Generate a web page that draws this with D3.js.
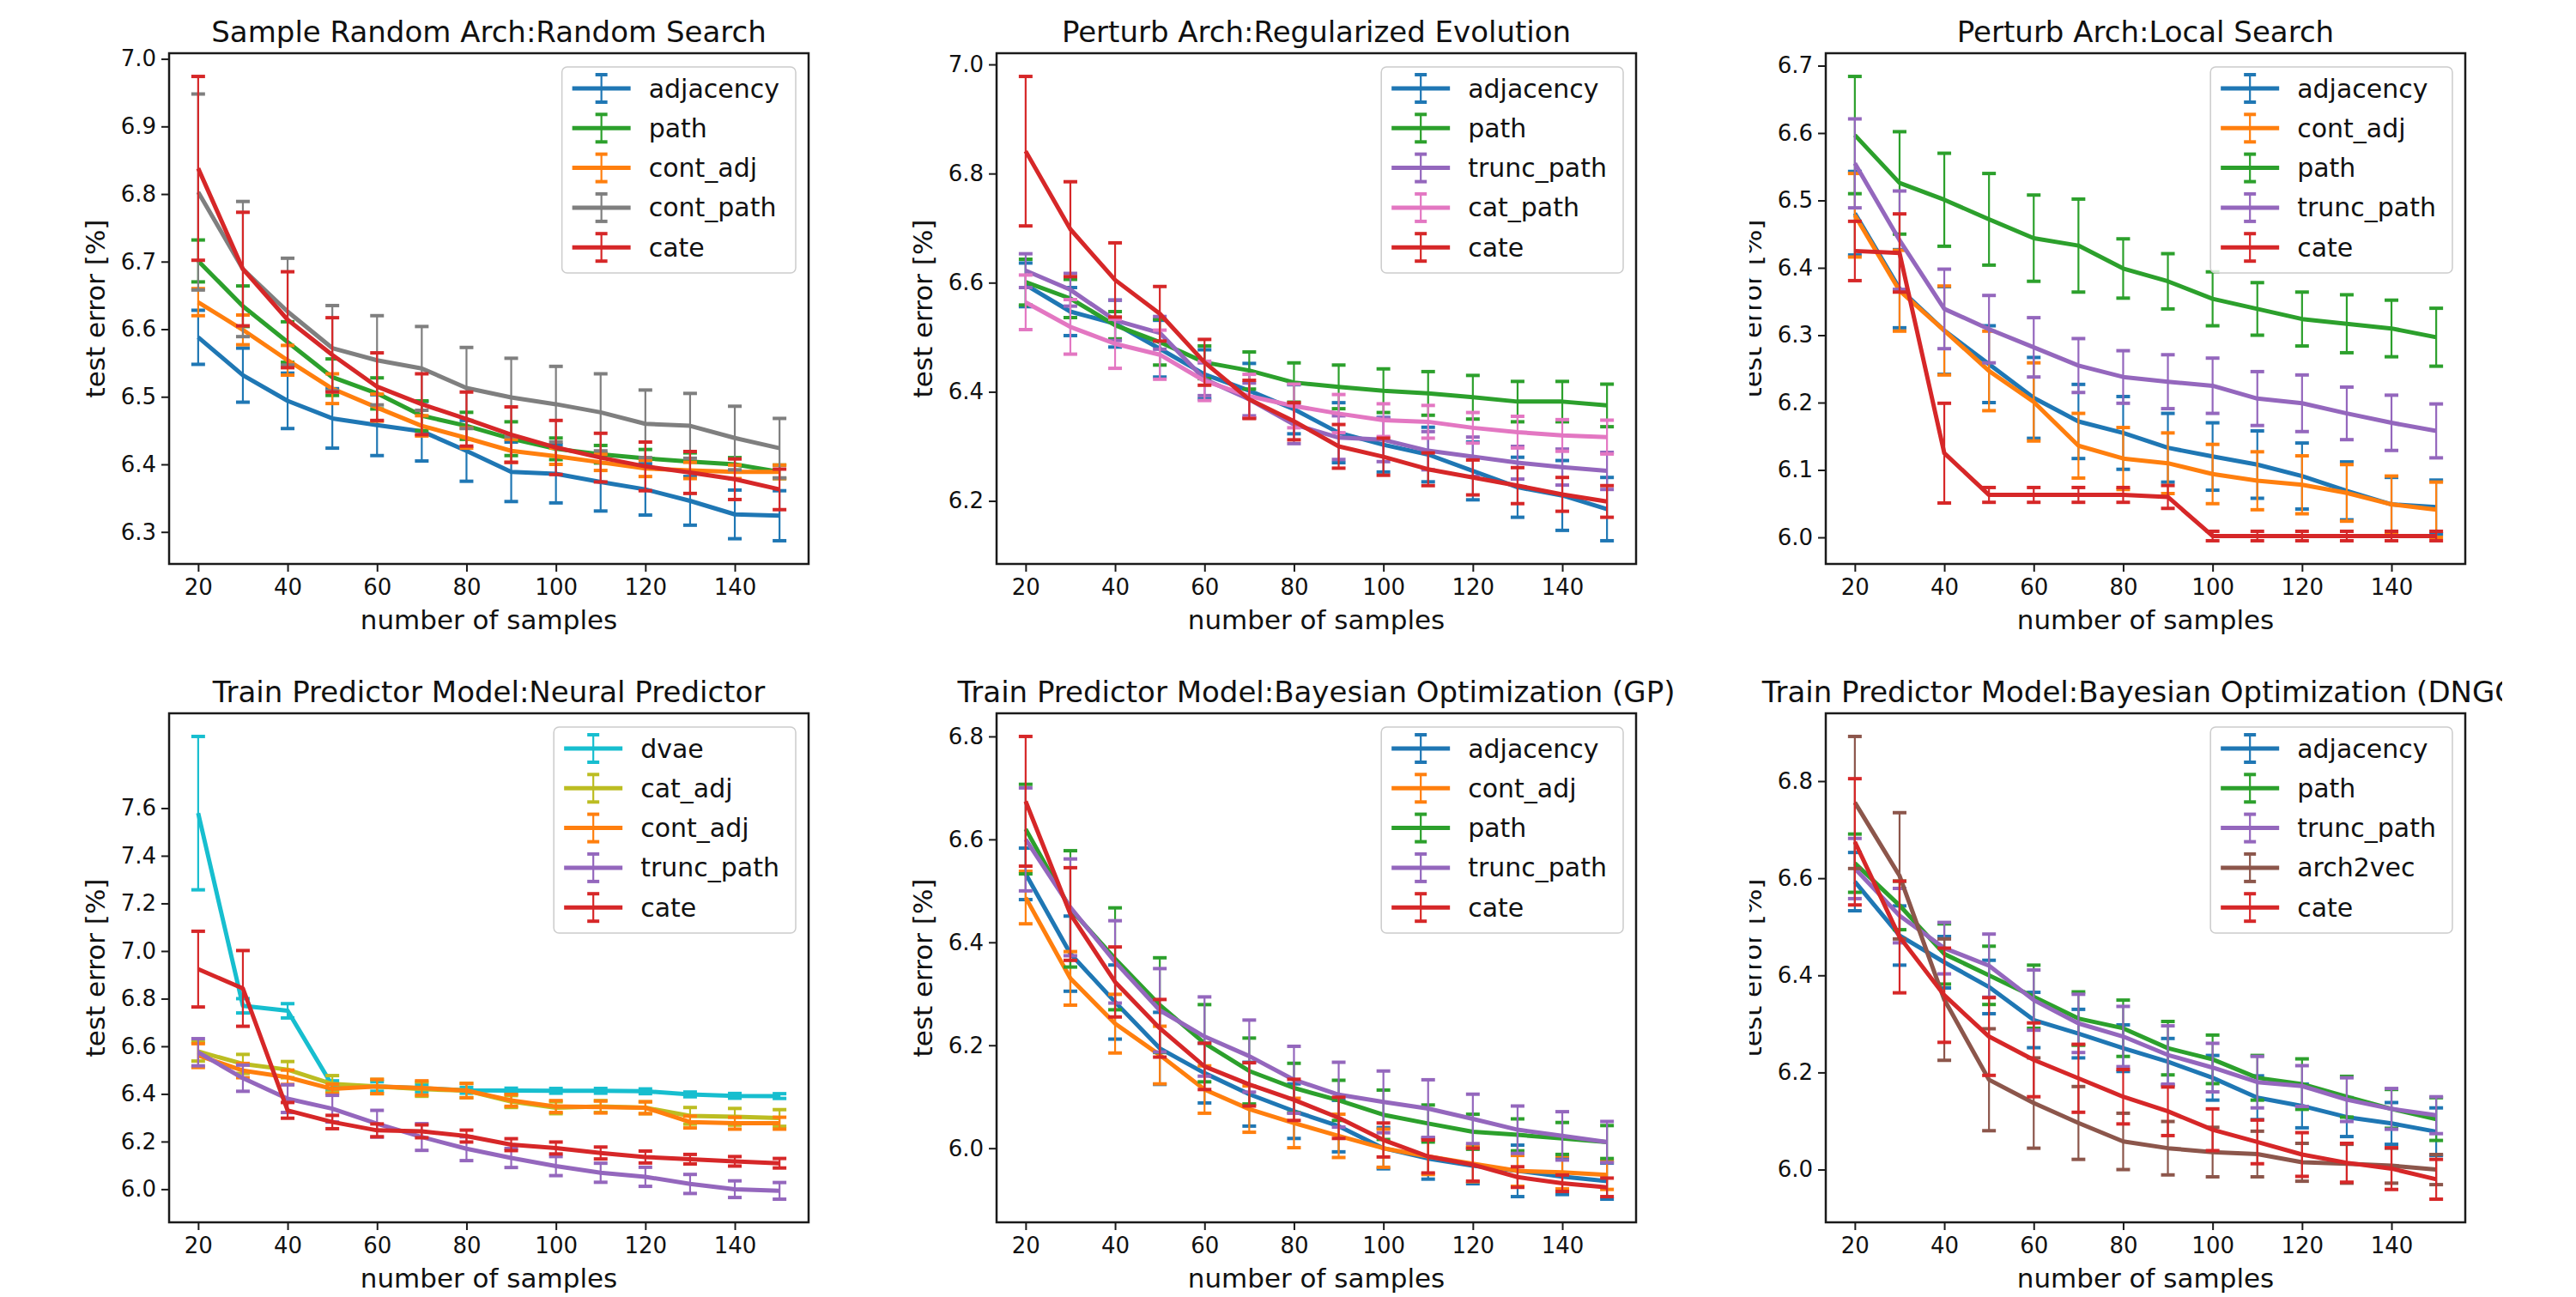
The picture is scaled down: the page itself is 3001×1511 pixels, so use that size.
<!DOCTYPE html>
<html>
<head>
<meta charset="utf-8">
<script src="https://cdn.jsdelivr.net/npm/d3@7"></script>
<style>
  body { margin: 0; background: #fff; }
  text { font-family: "DejaVu Sans", sans-serif; fill: #111; }
</style>
</head>
<body>
<svg id="chart" width="3001" height="1511"></svg>
<script>
// x values shared by every panel
const samples = [20, 30, 40, 50, 60, 70, 80, 90, 100, 110, 120, 130, 140, 150];
const xTicks = [20, 40, 60, 80, 100, 120, 140];

// Sample Random Arch: Random Search
const rsTicks = [6.3, 6.4, 6.5, 6.6, 6.7, 6.8, 6.9, 7.0];
const rsAdjacency = [6.588, 6.532, 6.494, 6.468, 6.458, 6.449, 6.420, 6.389, 6.386, 6.374, 6.363, 6.346, 6.326, 6.324];
const rsAdjacencyErr = [0.040, 0.040, 0.041, 0.044, 0.045, 0.044, 0.045, 0.044, 0.043, 0.043, 0.038, 0.036, 0.036, 0.037];
const rsPath = [6.701, 6.634, 6.581, 6.529, 6.505, 6.472, 6.457, 6.438, 6.423, 6.415, 6.409, 6.404, 6.400, 6.389];
const rsPathErr = [0.031, 0.030, 0.030, 0.027, 0.023, 0.022, 0.020, 0.025, 0.016, 0.013, 0.013, 0.013, 0.010, 0.010];
const rsContAdj = [6.640, 6.599, 6.554, 6.512, 6.484, 6.457, 6.439, 6.420, 6.412, 6.403, 6.394, 6.391, 6.389, 6.389];
const rsContAdjErr = [0.020, 0.022, 0.022, 0.022, 0.020, 0.015, 0.015, 0.017, 0.012, 0.012, 0.012, 0.012, 0.010, 0.010];
const rsContPath = [6.803, 6.689, 6.626, 6.572, 6.554, 6.542, 6.513, 6.499, 6.489, 6.477, 6.460, 6.457, 6.439, 6.424];
const rsContPathErr = [0.145, 0.100, 0.079, 0.063, 0.066, 0.062, 0.060, 0.058, 0.056, 0.057, 0.050, 0.048, 0.047, 0.044];
const rsCate = [6.838, 6.689, 6.614, 6.562, 6.515, 6.489, 6.467, 6.444, 6.425, 6.410, 6.397, 6.388, 6.378, 6.363];
const rsCateErr = [0.136, 0.084, 0.071, 0.055, 0.050, 0.045, 0.040, 0.041, 0.040, 0.036, 0.036, 0.031, 0.030, 0.030];

// Perturb Arch: Regularized Evolution
const reTicks = [6.2, 6.4, 6.6, 6.8, 7.0];
const reAdjacency = [6.596, 6.547, 6.525, 6.479, 6.432, 6.402, 6.368, 6.325, 6.303, 6.285, 6.255, 6.225, 6.210, 6.185];
const reAdjacencyErr = [0.040, 0.044, 0.043, 0.052, 0.045, 0.050, 0.045, 0.055, 0.050, 0.050, 0.053, 0.055, 0.064, 0.058];
const rePath = [6.601, 6.571, 6.522, 6.491, 6.454, 6.439, 6.417, 6.409, 6.402, 6.397, 6.390, 6.382, 6.382, 6.375];
const rePathErr = [0.042, 0.035, 0.025, 0.042, 0.030, 0.034, 0.036, 0.040, 0.040, 0.040, 0.040, 0.037, 0.037, 0.039];
const reTruncPath = [6.622, 6.587, 6.531, 6.508, 6.423, 6.386, 6.340, 6.316, 6.312, 6.292, 6.281, 6.270, 6.262, 6.255];
const reTruncPathErr = [0.031, 0.030, 0.037, 0.030, 0.030, 0.030, 0.035, 0.040, 0.040, 0.035, 0.036, 0.030, 0.033, 0.034];
const reCatPath = [6.564, 6.519, 6.488, 6.468, 6.420, 6.392, 6.374, 6.360, 6.348, 6.345, 6.334, 6.326, 6.320, 6.317];
const reCatPathErr = [0.050, 0.050, 0.045, 0.045, 0.036, 0.040, 0.040, 0.035, 0.030, 0.030, 0.028, 0.029, 0.029, 0.031];
const reCate = [6.841, 6.698, 6.605, 6.543, 6.454, 6.386, 6.346, 6.300, 6.281, 6.258, 6.243, 6.228, 6.212, 6.199];
const reCateErr = [0.137, 0.087, 0.068, 0.050, 0.042, 0.035, 0.034, 0.040, 0.034, 0.030, 0.032, 0.033, 0.031, 0.029];

// Perturb Arch: Local Search
const lsTicks = [6.0, 6.1, 6.2, 6.3, 6.4, 6.5, 6.6, 6.7];
const lsAdjacency = [6.481, 6.369, 6.307, 6.257, 6.207, 6.172, 6.155, 6.133, 6.120, 6.108, 6.091, 6.069, 6.049, 6.045];
const lsAdjacencyErr = [0.062, 0.058, 0.065, 0.057, 0.060, 0.055, 0.054, 0.051, 0.050, 0.050, 0.049, 0.043, 0.040, 0.040];
const lsContAdj = [6.478, 6.366, 6.307, 6.247, 6.201, 6.136, 6.117, 6.110, 6.094, 6.084, 6.078, 6.066, 6.049, 6.041];
const lsContAdjErr = [0.062, 0.060, 0.066, 0.059, 0.058, 0.048, 0.046, 0.045, 0.044, 0.043, 0.043, 0.042, 0.042, 0.041];
const lsPath = [6.597, 6.526, 6.501, 6.472, 6.444, 6.433, 6.399, 6.380, 6.354, 6.339, 6.324, 6.317, 6.310, 6.297];
const lsPathErr = [0.087, 0.076, 0.069, 0.068, 0.064, 0.069, 0.044, 0.041, 0.040, 0.039, 0.040, 0.043, 0.042, 0.043];
const lsTruncPath = [6.555, 6.441, 6.339, 6.309, 6.282, 6.255, 6.238, 6.231, 6.225, 6.206, 6.199, 6.184, 6.170, 6.158];
const lsTruncPathErr = [0.066, 0.073, 0.059, 0.050, 0.044, 0.040, 0.039, 0.040, 0.041, 0.040, 0.042, 0.039, 0.041, 0.040];
const lsCate = [6.425, 6.422, 6.125, 6.063, 6.063, 6.063, 6.063, 6.060, 6.002, 6.002, 6.002, 6.002, 6.002, 6.002];
const lsCateErr = [0.044, 0.058, 0.074, 0.011, 0.011, 0.011, 0.011, 0.017, 0.007, 0.007, 0.007, 0.007, 0.007, 0.007];

// Train Predictor Model: Neural Predictor
const npTicks = [6.0, 6.2, 6.4, 6.6, 6.8, 7.0, 7.2, 7.4, 7.6];
const npDvae = [7.579, 6.770, 6.749, 6.435, 6.431, 6.424, 6.415, 6.414, 6.413, 6.413, 6.411, 6.398, 6.392, 6.391];
const npDvaeErr = [0.322, 0.030, 0.030, 0.020, 0.020, 0.015, 0.012, 0.010, 0.010, 0.010, 0.010, 0.010, 0.010, 0.010];
const npCatAdj = [6.578, 6.526, 6.502, 6.442, 6.431, 6.420, 6.414, 6.368, 6.342, 6.347, 6.342, 6.308, 6.304, 6.299];
const npCatAdjErr = [0.040, 0.040, 0.034, 0.035, 0.030, 0.030, 0.030, 0.025, 0.025, 0.025, 0.025, 0.035, 0.035, 0.035];
const npContAdj = [6.561, 6.498, 6.470, 6.421, 6.431, 6.425, 6.414, 6.373, 6.347, 6.345, 6.342, 6.282, 6.277, 6.277];
const npContAdjErr = [0.050, 0.030, 0.030, 0.020, 0.030, 0.030, 0.030, 0.025, 0.025, 0.025, 0.025, 0.025, 0.025, 0.025];
const npTruncPath = [6.575, 6.466, 6.380, 6.338, 6.275, 6.219, 6.170, 6.131, 6.097, 6.069, 6.052, 6.022, 6.000, 5.993];
const npTruncPathErr = [0.057, 0.055, 0.058, 0.056, 0.056, 0.056, 0.050, 0.040, 0.040, 0.040, 0.040, 0.040, 0.035, 0.035];
const npCate = [6.924, 6.843, 6.331, 6.282, 6.247, 6.243, 6.223, 6.187, 6.173, 6.152, 6.135, 6.126, 6.117, 6.109];
const npCateErr = [0.159, 0.159, 0.033, 0.028, 0.027, 0.027, 0.025, 0.025, 0.025, 0.025, 0.025, 0.020, 0.020, 0.020];

// Train Predictor Model: Bayesian Optimization (GP)
const gpTicks = [6.0, 6.2, 6.4, 6.6, 6.8];
const gpAdjacency = [6.533, 6.378, 6.284, 6.194, 6.146, 6.105, 6.072, 6.043, 6.000, 5.980, 5.966, 5.956, 5.945, 5.936];
const gpAdjacencyErr = [0.050, 0.073, 0.072, 0.070, 0.058, 0.062, 0.053, 0.050, 0.040, 0.040, 0.035, 0.050, 0.035, 0.035];
const gpContAdj = [6.487, 6.330, 6.242, 6.181, 6.114, 6.076, 6.049, 6.024, 6.000, 5.984, 5.970, 5.956, 5.953, 5.948];
const gpContAdjErr = [0.051, 0.052, 0.057, 0.056, 0.046, 0.045, 0.048, 0.042, 0.037, 0.035, 0.035, 0.030, 0.032, 0.028];
const gpPath = [6.620, 6.465, 6.368, 6.278, 6.204, 6.150, 6.117, 6.093, 6.065, 6.048, 6.032, 6.026, 6.019, 6.012];
const gpPathErr = [0.087, 0.113, 0.099, 0.092, 0.075, 0.064, 0.048, 0.039, 0.048, 0.036, 0.034, 0.031, 0.031, 0.032];
const gpTruncPath = [6.600, 6.468, 6.362, 6.268, 6.217, 6.179, 6.133, 6.104, 6.090, 6.077, 6.057, 6.036, 6.024, 6.012];
const gpTruncPathErr = [0.100, 0.094, 0.080, 0.081, 0.077, 0.070, 0.065, 0.063, 0.060, 0.056, 0.048, 0.046, 0.047, 0.040];
const gpCate = [6.674, 6.455, 6.323, 6.233, 6.159, 6.124, 6.094, 6.059, 6.016, 5.984, 5.968, 5.944, 5.932, 5.924];
const gpCateErr = [0.126, 0.090, 0.068, 0.056, 0.045, 0.042, 0.040, 0.040, 0.033, 0.032, 0.032, 0.020, 0.016, 0.018];

// Train Predictor Model: Bayesian Optimization (DNGO)
const dnTicks = [6.0, 6.2, 6.4, 6.6, 6.8];
const dnAdjacency = [6.593, 6.482, 6.427, 6.376, 6.308, 6.280, 6.250, 6.222, 6.189, 6.148, 6.131, 6.108, 6.095, 6.078];
const dnAdjacencyErr = [0.060, 0.061, 0.053, 0.055, 0.057, 0.050, 0.048, 0.048, 0.046, 0.045, 0.045, 0.040, 0.043, 0.049];
const dnPath = [6.631, 6.544, 6.444, 6.400, 6.356, 6.311, 6.291, 6.250, 6.227, 6.189, 6.176, 6.150, 6.125, 6.104];
const dnPathErr = [0.060, 0.050, 0.062, 0.060, 0.065, 0.055, 0.058, 0.055, 0.050, 0.046, 0.052, 0.042, 0.040, 0.044];
const dnTruncPath = [6.620, 6.523, 6.456, 6.420, 6.349, 6.301, 6.274, 6.236, 6.210, 6.180, 6.172, 6.144, 6.125, 6.112];
const dnTruncPathErr = [0.062, 0.056, 0.053, 0.065, 0.062, 0.060, 0.062, 0.060, 0.050, 0.053, 0.042, 0.045, 0.042, 0.038];
const dnArch2vec = [6.756, 6.605, 6.350, 6.185, 6.137, 6.096, 6.058, 6.044, 6.036, 6.032, 6.015, 6.012, 6.008, 6.000];
const dnArch2vecErr = [0.136, 0.130, 0.125, 0.105, 0.093, 0.075, 0.058, 0.055, 0.051, 0.047, 0.039, 0.040, 0.036, 0.031];
const dnCate = [6.675, 6.479, 6.359, 6.274, 6.226, 6.188, 6.150, 6.120, 6.082, 6.057, 6.031, 6.014, 6.002, 5.980];
const dnCateErr = [0.130, 0.115, 0.097, 0.080, 0.076, 0.070, 0.056, 0.050, 0.043, 0.045, 0.045, 0.040, 0.043, 0.041];

// matplotlib tab10
const C = {
  blue: '#1f77b4', orange: '#ff7f0e', green: '#2ca02c', red: '#d62728', purple: '#9467bd',
  brown: '#8c564b', pink: '#e377c2', gray: '#7f7f7f', olive: '#bcbd22', cyan: '#17becf'
};

const s = (name, color, mean, err) => ({ name, color, mean, err });

const panels = [
  { title: 'Sample Random Arch:Random Search', col: 0, row: 0, yTicks: rsTicks, series: [
    s('adjacency', C.blue, rsAdjacency, rsAdjacencyErr),
    s('path', C.green, rsPath, rsPathErr),
    s('cont_adj', C.orange, rsContAdj, rsContAdjErr),
    s('cont_path', C.gray, rsContPath, rsContPathErr),
    s('cate', C.red, rsCate, rsCateErr)] },
  { title: 'Perturb Arch:Regularized Evolution', col: 1, row: 0, yTicks: reTicks, series: [
    s('adjacency', C.blue, reAdjacency, reAdjacencyErr),
    s('path', C.green, rePath, rePathErr),
    s('trunc_path', C.purple, reTruncPath, reTruncPathErr),
    s('cat_path', C.pink, reCatPath, reCatPathErr),
    s('cate', C.red, reCate, reCateErr)] },
  { title: 'Perturb Arch:Local Search', col: 2, row: 0, yTicks: lsTicks, series: [
    s('adjacency', C.blue, lsAdjacency, lsAdjacencyErr),
    s('cont_adj', C.orange, lsContAdj, lsContAdjErr),
    s('path', C.green, lsPath, lsPathErr),
    s('trunc_path', C.purple, lsTruncPath, lsTruncPathErr),
    s('cate', C.red, lsCate, lsCateErr)] },
  { title: 'Train Predictor Model:Neural Predictor', col: 0, row: 1, yTicks: npTicks, series: [
    s('dvae', C.cyan, npDvae, npDvaeErr),
    s('cat_adj', C.olive, npCatAdj, npCatAdjErr),
    s('cont_adj', C.orange, npContAdj, npContAdjErr),
    s('trunc_path', C.purple, npTruncPath, npTruncPathErr),
    s('cate', C.red, npCate, npCateErr)] },
  { title: 'Train Predictor Model:Bayesian Optimization (GP)', col: 1, row: 1, yTicks: gpTicks, series: [
    s('adjacency', C.blue, gpAdjacency, gpAdjacencyErr),
    s('cont_adj', C.orange, gpContAdj, gpContAdjErr),
    s('path', C.green, gpPath, gpPathErr),
    s('trunc_path', C.purple, gpTruncPath, gpTruncPathErr),
    s('cate', C.red, gpCate, gpCateErr)] },
  { title: 'Train Predictor Model:Bayesian Optimization (DNGO)', col: 2, row: 1, yTicks: dnTicks, series: [
    s('adjacency', C.blue, dnAdjacency, dnAdjacencyErr),
    s('path', C.green, dnPath, dnPathErr),
    s('trunc_path', C.purple, dnTruncPath, dnTruncPathErr),
    s('arch2vec', C.brown, dnArch2vec, dnArch2vecErr),
    s('cate', C.red, dnCate, dnCateErr)] }
];

// layout (px)
const colLeft = [197, 1161, 2127];
const rowTop = [62, 831];
const plotW = 745;
const plotH = [595, 593];
const ink = '#1a1a1a';
const capHalf = 8;

const svg = d3.select('#chart');
svg.append('rect').attr('width', 3001).attr('height', 1511).attr('fill', '#fff');

// the right column was cropped in the source figure
svg.append('defs').append('clipPath').attr('id', 'col3clip')
  .append('rect').attr('x', 2038).attr('y', 0).attr('width', 877).attr('height', 1511);

panels.forEach(p => {
  const h = plotH[p.row];
  const outer = svg.append('g');
  if (p.col === 2) outer.attr('clip-path', 'url(#col3clip)');
  const g = outer.append('g').attr('transform', `translate(${colLeft[p.col]},${rowTop[p.row]})`);

  const x = d3.scaleLinear().domain([13.5, 156.5]).range([0, plotW]);
  const lo = d3.min(p.series, d => d3.min(d.mean, (m, i) => m - d.err[i]));
  const hi = d3.max(p.series, d => d3.max(d.mean, (m, i) => m + d.err[i]));
  const pad = (hi - lo) * 0.05;
  const y = d3.scaleLinear().domain([lo - pad, hi + pad]).range([h, 0]);

  // series: line, then its error bars
  const line = d3.line().x((d, i) => x(samples[i])).y(d => y(d));
  p.series.forEach(sr => {
    const sg = g.append('g');
    sg.append('path').attr('d', line(sr.mean))
      .attr('fill', 'none').attr('stroke', sr.color)
      .attr('stroke-width', 5).attr('stroke-linejoin', 'round');
    sr.mean.forEach((m, i) => {
      const cx = x(samples[i]);
      sg.append('line').attr('x1', cx).attr('x2', cx)
        .attr('y1', y(m - sr.err[i])).attr('y2', y(m + sr.err[i]))
        .attr('stroke', sr.color).attr('stroke-width', 2.2);
      [m - sr.err[i], m + sr.err[i]].forEach(v => {
        sg.append('line').attr('x1', cx - capHalf).attr('x2', cx + capHalf)
          .attr('y1', y(v)).attr('y2', y(v))
          .attr('stroke', sr.color).attr('stroke-width', 4);
      });
    });
  });

  // axes
  const xAxis = g.append('g').attr('transform', `translate(0,${h})`)
    .call(d3.axisBottom(x).tickValues(xTicks).tickFormat(d3.format('d')).tickSize(9).tickPadding(9));
  const yAxis = g.append('g')
    .call(d3.axisLeft(y).tickValues(p.yTicks).tickFormat(d3.format('.1f')).tickSize(9).tickPadding(6));
  [xAxis, yAxis].forEach(a => {
    a.select('.domain').remove();
    a.selectAll('.tick line').attr('stroke', ink).attr('stroke-width', 2);
    a.selectAll('.tick text').attr('font-size', 26).attr('fill', ink)
      .attr('font-family', '"DejaVu Sans", sans-serif');
  });

  g.append('rect').attr('width', plotW).attr('height', h)
    .attr('fill', 'none').attr('stroke', ink).attr('stroke-width', 2.5);

  // labels
  g.append('text').attr('x', plotW / 2).attr('y', -13)
    .attr('text-anchor', 'middle').attr('font-size', 34).text(p.title);
  g.append('text').attr('x', plotW / 2).attr('y', h + 76)
    .attr('text-anchor', 'middle').attr('font-size', 31).text('number of samples');
  g.append('text').attr('transform', `translate(-75,${h / 2}) rotate(-90)`)
    .attr('text-anchor', 'middle').attr('font-size', 31).text('test error [%]');

  // legend
  const lg = g.append('g');
  const labels = p.series.map((sr, i) => lg.append('text')
    .attr('x', 101).attr('y', 25 + i * 46.3).attr('dy', '0.35em')
    .attr('font-size', 30).text(sr.name));
  const textW = d3.max(labels, t => t.node().getComputedTextLength());
  const boxW = 101 + textW + 19;
  const boxH = 240;
  lg.attr('transform', `translate(${plotW - 15 - boxW},16)`);
  lg.insert('rect', 'text').attr('width', boxW).attr('height', boxH)
    .attr('rx', 6).attr('fill', '#fff').attr('fill-opacity', 0.8)
    .attr('stroke', '#cccccc').attr('stroke-width', 1.5);
  p.series.forEach((sr, i) => {
    const cy = 25 + i * 46.3;
    const hx = 46;
    lg.insert('line', 'text').attr('x1', 12).attr('x2', 80).attr('y1', cy).attr('y2', cy)
      .attr('stroke', sr.color).attr('stroke-width', 5);
    lg.insert('line', 'text').attr('x1', hx).attr('x2', hx).attr('y1', cy - 16).attr('y2', cy + 16)
      .attr('stroke', sr.color).attr('stroke-width', 2.2);
    [cy - 16, cy + 16].forEach(v => lg.insert('line', 'text')
      .attr('x1', hx - 7).attr('x2', hx + 7).attr('y1', v).attr('y2', v)
      .attr('stroke', sr.color).attr('stroke-width', 4));
  });
});
</script>
</body>
</html>
